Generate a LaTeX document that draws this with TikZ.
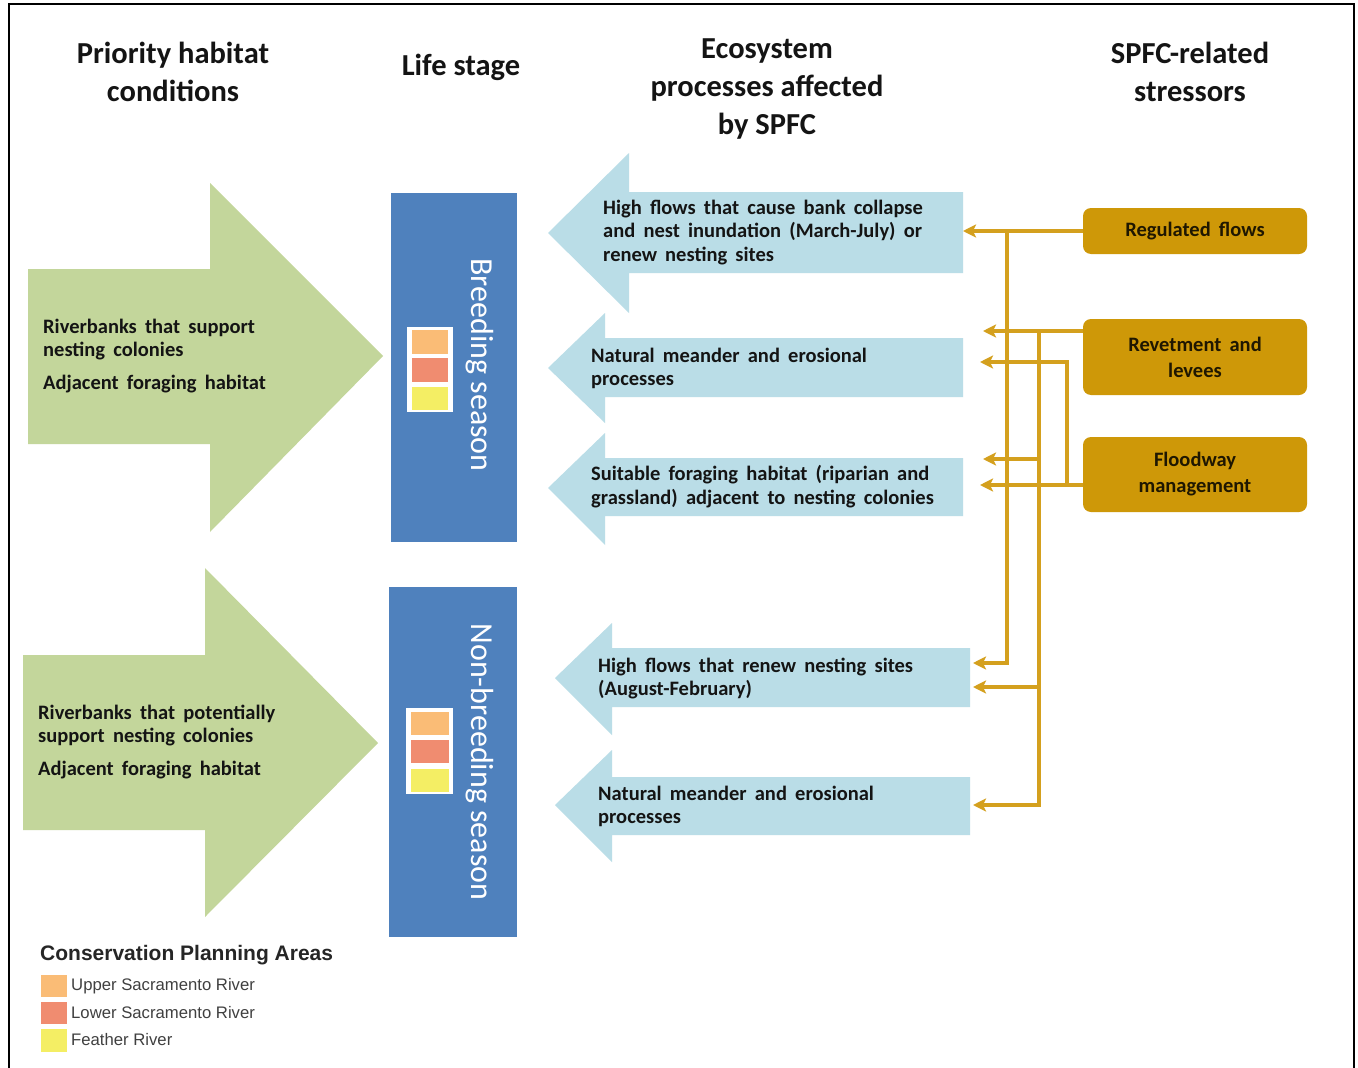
\documentclass[tikz,border=0pt]{standalone}
\usepackage{fontspec}
\setmainfont{Carlito}
\newfontfamily\legendfont{Liberation Sans}
\usetikzlibrary{arrows.meta}

\definecolor{habgreen}{RGB}{195,214,155}
\definecolor{procblue}{RGB}{186,221,231}
\definecolor{stageblue}{RGB}{79,129,189}
\definecolor{stressgold}{RGB}{206,152,8}
\definecolor{linkgold}{RGB}{212,160,30}
\definecolor{txtdark}{RGB}{20,20,20}
\definecolor{cpaupper}{RGB}{250,188,118}
\definecolor{cpalower}{RGB}{240,140,112}
\definecolor{cpafeather}{RGB}{244,238,100}

% slightly wider word gaps for the body text
\newcommand{\widewords}{\spaceskip=0.4em plus 0.1em minus 0.05em\relax}

\tikzset{
  header/.style={align=center, text=txtdark, inner sep=0pt,
    font=\fontsize{30.5}{38}\selectfont\bfseries},
  bodytext/.style={align=left, text=txtdark, inner sep=0pt, anchor=north west,
    font=\fontsize{20.5}{23.5}\selectfont\bfseries\widewords},
  stagebox/.style={fill=stageblue, draw=none, inner sep=0pt},
  stagelabel/.style={text=white, rotate=-90, inner sep=0pt,
    font=\fontsize{32}{36}\selectfont},
  stressor/.style={fill=stressgold, draw=none, rounded corners=8pt, inner sep=0pt,
    minimum width=224pt, align=center, text=black!85!stressgold,
    font=\fontsize{20.5}{26}\selectfont\bfseries\widewords},
  conn/.style={draw=linkgold, line width=4pt,
    -{Stealth[length=13pt,width=13pt,inset=3pt]}},
  legtitle/.style={anchor=west, inner sep=0pt, text=black!85,
    font=\legendfont\fontsize{21}{24}\selectfont\bfseries},
  legitem/.style={anchor=west, inner sep=0pt, text=black!75,
    font=\legendfont\fontsize{16.7}{19}\selectfont},
}

\begin{document}
\begin{tikzpicture}[x=1pt,y=-1pt]
\useasboundingbox (0,0) rectangle (1358,1068);
\fill[white] (0,0) rectangle (1358,1068);

% frame
\draw[line width=2pt] (9,1068) -- (9,4) -- (1354,4) -- (1354,1068);

% column headings
\node[header] (h1) at (173,72) {Priority habitat\\conditions};
\node[header] (h2) at (461,67) {Life stage};
\node[header] (h3) at (767,89) {Ecosystem\\processes affected\\by SPFC};
\node[header] (h4) at (1190,72) {SPFC-related\\stressors};

% habitat arrows
\fill[habgreen] (28,269) -- (210,269) -- (210,183) -- (383,356) -- (210,532)
  -- (210,444) -- (28,444) -- cycle;
\fill[habgreen] (23,655) -- (205,655) -- (205,568) -- (378,743) -- (205,917)
  -- (205,830) -- (23,830) -- cycle;
\node[bodytext] (g1) at (43,318.5)
  {Riverbanks that support\\nesting colonies\\[9pt]Adjacent foraging habitat};
\node[bodytext] (g2) at (38,704.5)
  {Riverbanks that potentially\\support nesting colonies\\[9pt]Adjacent foraging habitat};

% life stage boxes
\node[stagebox, minimum width=126pt, minimum height=349pt] (breed) at (454,367.5) {};
\node[stagebox, minimum width=128pt, minimum height=350pt] (nonbreed) at (453,762) {};
\node[stagelabel] (breedlbl) at (480,365) {Breeding season};
\node[stagelabel] (nonbreedlbl) at (480,762) {Non-breeding season};

% planning area swatches
\fill[white] (407,327) rectangle (453,412);
\fill[cpaupper] (412,330) rectangle (448,354);
\fill[cpalower] (412,358) rectangle (448,382);
\fill[cpafeather] (412,387) rectangle (448,410);
\fill[white] (406,708) rectangle (453,794);
\fill[cpaupper] (411,712) rectangle (449,735);
\fill[cpalower] (411,740) rectangle (449,763);
\fill[cpafeather] (411,769) rectangle (449,792);

% ecosystem process arrows
\fill[procblue] (963,192) -- (629,192) -- (629,153) -- (548,233) -- (629,313)
  -- (629,273) -- (963,273) -- cycle;
\fill[procblue] (963,338) -- (605,338) -- (605,313) -- (548,368) -- (605,423)
  -- (605,397) -- (963,397) -- cycle;
\fill[procblue] (963,458) -- (605,458) -- (605,433) -- (548,488) -- (605,545)
  -- (605,516) -- (963,516) -- cycle;
\fill[procblue] (970,648) -- (612,648) -- (612,623) -- (555,678) -- (612,735)
  -- (612,707) -- (970,707) -- cycle;
\fill[procblue] (970,777) -- (612,777) -- (612,750) -- (555,805) -- (612,862)
  -- (612,835) -- (970,835) -- cycle;

\node[bodytext] (p1) at (603,199.5)
  {High flows that cause bank collapse\\and nest inundation (March-July) or\\renew nesting sites};
\node[bodytext] (p2) at (591,347.5) {Natural meander and erosional\\processes};
\node[bodytext] (p3) at (591,465.5)
  {Suitable foraging habitat (riparian and\\grassland) adjacent to nesting colonies};
\node[bodytext] (p4) at (598,657.5) {High flows that renew nesting sites\\(August-February)};
\node[bodytext] (p5) at (598,785.5) {Natural meander and erosional\\processes};

% stressors
\node[stressor, minimum height=46pt] (rf) at (1195,231) {Regulated flows};
\node[stressor, minimum height=76pt] (rl) at (1195,357) {Revetment and\\levees};
\node[stressor, minimum height=75pt] (fm) at (1195,474.5) {Floodway\\management};

% arrow tips at the process arrows
\coordinate (t1) at (963,231);
\coordinate (t2) at (983,331);
\coordinate (t3) at (980,362);
\coordinate (t5) at (983,459);
\coordinate (t6) at (980,485);
\coordinate (t7) at (973,663);
\coordinate (t8) at (973,687);
\coordinate (t9) at (973,805);
% junctions on the trunk lines
\coordinate (j1) at (1007,231);
\coordinate (j2) at (1039,331);
\coordinate (j3) at (1067,485);

% regulated flows
\draw[conn] (rf.west) -- (t1);
\draw[conn] (j1) |- (t7);
% revetment and levees
\draw[conn] (rl.west |- t2) -- (t2);
\draw[conn] (j2) |- (t9);
\draw[conn] (j2 |- t5) -- (t5);
\draw[conn] (j2 |- t8) -- (t8);
% floodway management
\draw[conn] (fm.west |- t6) -- (t6);
\draw[conn] (j3) |- (t3);

% legend
\node[legtitle] (legt) at (40,955) {Conservation Planning Areas};
\fill[cpaupper] (41,975) rectangle (67,997);
\fill[cpalower] (41,1002) rectangle (67,1024);
\fill[cpafeather] (41,1029) rectangle (67,1052);
\node[legitem] (leg1) at (71,986) {Upper Sacramento River};
\node[legitem] (leg2) at (71,1013) {Lower Sacramento River};
\node[legitem] (leg3) at (71,1040) {Feather River};
\end{tikzpicture}
\end{document}
